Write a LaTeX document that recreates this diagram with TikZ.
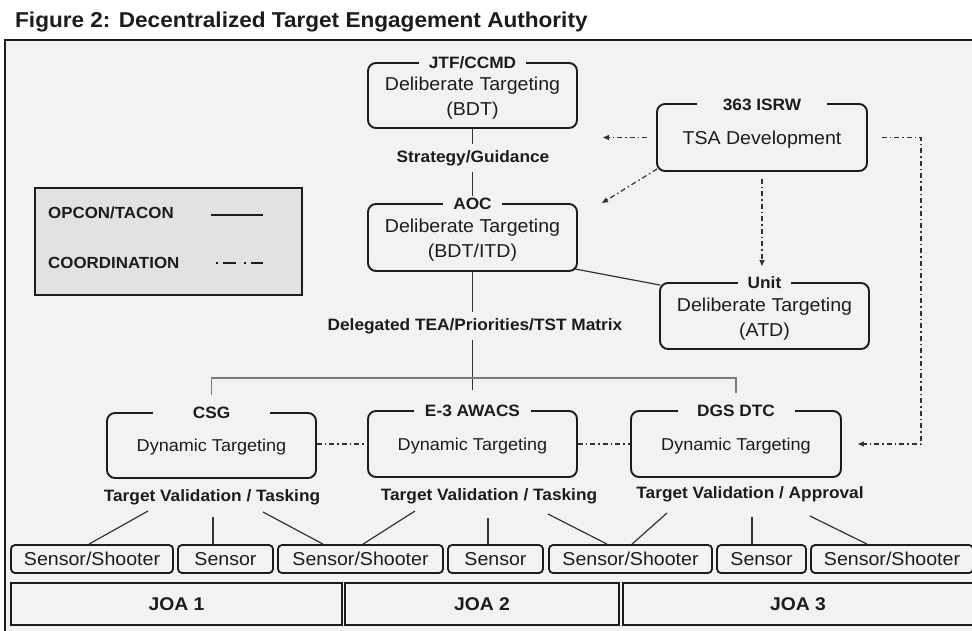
\documentclass[tikz,border=0pt]{standalone}
\usepackage{fontspec}
\setmainfont{Liberation Sans}[FakeStretch=1.05]
\usetikzlibrary{arrows.meta,calc}
\definecolor{bgc}{HTML}{F2F2F2}
\definecolor{legc}{HTML}{E2E2E2}
\definecolor{ink}{HTML}{1C1C1C}
\definecolor{lnc}{HTML}{333333}
\definecolor{busc}{HTML}{7A7A7A}
\newcommand\myttl{\fontsize{21.5pt}{25pt}\selectfont\bfseries}
\newcommand\myreg{\fontsize{18.65pt}{25pt}\selectfont}
\newcommand\mydyn{\fontsize{17.2pt}{21pt}\selectfont}
\newcommand\mylab{\fontsize{16.45pt}{20pt}\selectfont\bfseries}
\newcommand\myleg{\fontsize{16.1pt}{20pt}\selectfont\bfseries}
\newcommand\myjoa{\fontsize{18.4pt}{22pt}\selectfont\bfseries}
\newcommand\mystrut{\rule{0pt}{19.6pt}}
\begin{document}
\begin{tikzpicture}[x=1pt,y=-1pt,
  every node/.style={text=ink, inner sep=0pt},
  mainbox/.style={draw=ink, line width=1.9pt, rounded corners=8pt, fill=bgc, minimum width=209pt, minimum height=66pt, align=center, font=\myreg},
  dynbox/.style={mainbox, font=\mydyn, text height=12.3pt, text depth=0pt},
  hdr/.style={fill=bgc, font=\mylab, inner xsep=10pt, inner ysep=2pt, text height=11.8pt, text depth=0pt},
  sbox/.style={draw=ink, line width=1.8pt, rounded corners=4pt, fill=bgc, minimum height=28pt, font=\myreg, text height=13.4pt, text depth=0pt},
  joabox/.style={draw=ink, line width=1.8pt, fill=bgc, minimum height=42pt, font=\myjoa, text height=13.2pt, text depth=0pt},
  conn/.style={draw=lnc, line width=1.2pt},
  busline/.style={draw=busc, line width=1.5pt},
  coordl/.style={draw=lnc, line width=1.2pt, dash pattern=on 5pt off 3pt on 1.5pt off 3pt},
  tip/.style={-{Triangle[length=6pt,width=5pt]}},
  lbl/.style={font=\mylab},
]
\useasboundingbox (0,0) rectangle (972,630);
\clip (0,0) rectangle (972,630);
\fill[white] (0,0) rectangle (972,630);
\draw[fill=bgc, draw=ink, line width=2pt] (5,40) rectangle (1000,660);

% title
\node[anchor=base west, font=\myttl] (title) at (15,27) {Figure 2: Decentralized Target Engagement Authority};

% legend
\node[draw=ink, line width=2pt, fill=legc, minimum width=267pt, minimum height=107pt] (leg) at (168.5,241.5) {};
\node[anchor=west, font=\myleg] (leg1) at (48,213) {OPCON/TACON};
\node[anchor=west, font=\myleg] (leg2) at (48,263) {COORDINATION};
\draw[draw=ink, line width=2pt] (211,215) -- (263,215);
\draw[draw=ink, line width=2pt, dash pattern=on 2pt off 5pt on 13pt off 8pt] (216,263) -- (263,263);

% main boxes
\node[mainbox, minimum height=65pt] (jtf) at (472.5,95.5) {\mystrut Deliberate Targeting\\(BDT)};
\node[hdr] (jtfl) at ($(jtf.north)+(0,1)$) {JTF/CCMD};
\node[mainbox, minimum height=67pt] (aoc) at (472.5,237.5) {\mystrut Deliberate Targeting\\(BDT/ITD)};
\node[hdr] (aocl) at ($(aoc.north)+(0,1)$) {AOC};
\node[mainbox, minimum width=210pt, minimum height=67pt, text height=13.4pt, text depth=0pt] (isrw) at (762,137.5) {TSA Development};
\node[hdr, minimum width=130pt] (isrwl) at ($(isrw.north)+(0,2)$) {363 ISRW};
\node[mainbox] (unit) at (764.5,316) {\mystrut Deliberate Targeting\\(ATD)};
\node[hdr] (unitl) at ($(unit.north)+(0,1)$) {Unit};

\node[dynbox, minimum height=65pt] (csg) at (211.5,445.5) {Dynamic Targeting};
\node[hdr, minimum width=117pt] (csgl) at ($(csg.north)+(0,1)$) {CSG};
\node[dynbox] (e3) at (472.5,444) {Dynamic Targeting};
\node[hdr, minimum width=117pt] (e3l) at ($(e3.north)+(0,1)$) {E-3 AWACS};
\node[dynbox, minimum width=210pt] (dgs) at (736,444) {Dynamic Targeting};
\node[hdr, minimum width=117pt] (dgsl) at ($(dgs.north)+(0,1)$) {DGS DTC};

% connector labels
\node[lbl, inner ysep=6.5pt] (sg) at (473,158) {Strategy/Guidance};
\node[lbl, inner ysep=6pt] (del) at (475,326) {Delegated TEA/Priorities/TST Matrix};
\node[lbl] (tv1) at (212,497) {Target Validation / Tasking};
\node[lbl] (tv2) at (489,496) {Target Validation / Tasking};
\node[lbl] (tv3) at (750,494) {Target Validation / Approval};

% sensors
\node[sbox, minimum width=162pt] (s1) at (92,559) {Sensor/Shooter};
\node[sbox, minimum width=95pt] (s2) at (225.5,559) {Sensor};
\node[sbox, minimum width=165pt] (s3) at (360.5,559) {Sensor/Shooter};
\node[sbox, minimum width=95pt] (s4) at (495.5,559) {Sensor};
\node[sbox, minimum width=163pt] (s5) at (630.5,559) {Sensor/Shooter};
\node[sbox, minimum width=89pt] (s6) at (761.5,559) {Sensor};
\node[sbox, minimum width=162pt] (s7) at (892,559) {Sensor/Shooter};

% JOA
\node[joabox, minimum width=331pt] (j1) at (176.5,604) {JOA 1};
\node[joabox, minimum width=274pt] (j2) at (482,604) {JOA 2};
\node[joabox, minimum width=350pt] (j3) at (798,604) {JOA 3};

% solid connectors
\draw[conn] (jtf.south) -- (jtf.south |- sg.north);
\draw[conn] (jtf.south |- sg.south) -- (aocl.north);
\draw[conn] (aoc.south) -- (aoc.south |- del.north);
\draw[conn, shorten >=12.5pt] (e3.north |- del.south) -- (e3.north |- e3l.north);
\coordinate (busy) at (0,378);
\draw[busline, shorten <=10pt, shorten >=10pt] (csgl.north) |- (dgsl.north |- busy) -- (dgsl.north);
\draw[conn] ($(aoc.south east)+(-3,-3)$) -- ($(unit.north west)+(1,3)$);

% sensor links
\draw[conn] ($(tv1)+(-64,14)$) -- ($(s1.north)+(-3,0)$);
\draw[conn] ($(tv1)+(1,20)$) -- ($(s2.north)+(-12.5,0)$);
\draw[conn] ($(tv1)+(51,15)$) -- ($(s3.north)+(-37.5,0)$);
\draw[conn] ($(tv2)+(-74,15)$) -- ($(s3.north)+(2.5,0)$);
\draw[conn] ($(tv2)+(-1,22)$) -- ($(s4.north)+(-7.5,0)$);
\draw[conn] ($(tv2)+(59,18)$) -- ($(s5.north)+(-23.5,0)$);
\draw[conn] ($(tv3)+(-83,19)$) -- ($(s5.north)+(1.5,0)$);
\draw[conn] ($(tv3)+(2,23)$) -- ($(s6.north)+(-9.5,0)$);
\draw[conn] ($(tv3)+(60,22)$) -- ($(s7.north)+(-25,0)$);

% coordination
\coordinate (c1) at (603,137.5);
\coordinate (c2) at (602,203);
\coordinate (c3) at (762,266);
\coordinate (c4) at (921,300);
\draw[coordl, tip, shorten <=9pt] (isrw.west) -- (c1);
\draw[coordl, tip] ($(isrw.south west)+(1,-3)$) -- (c2);
\draw[coordl, tip, shorten <=7pt] (isrw.south) -- (c3);
\draw[coordl, tip, shorten <=14pt, shorten >=16pt] (isrw.east) -| (c4) |- (dgs.east);
\draw[coordl] (csg.east |- e3.west) -- (e3.west);
\draw[coordl] (e3.east) -- (dgs.west);
\end{tikzpicture}
\end{document}
